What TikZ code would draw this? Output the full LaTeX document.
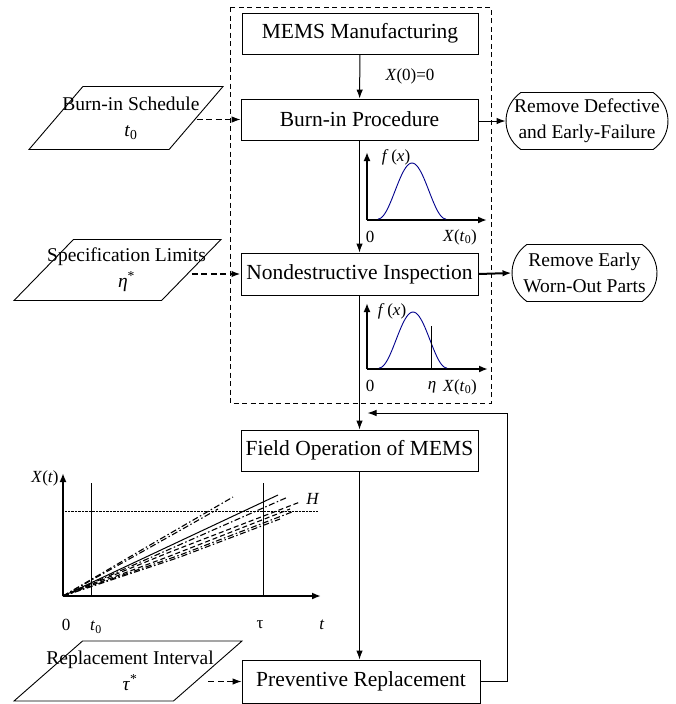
\documentclass[tikz,border=0pt]{standalone}
\usepackage{fontspec}
\setmainfont{Liberation Serif}
\usetikzlibrary{shapes.geometric,shapes.misc,calc,arrows.meta}

\newcommand{\boxfont}{\fontsize{21.5}{24}\selectfont}
\newcommand{\sidefont}{\fontsize{19.5}{26}\selectfont}
\newcommand{\axfont}{\fontsize{17}{19}\selectfont}

\begin{document}
\begin{tikzpicture}[x=1pt,y=-1pt,
    box/.style={draw,line width=0.9pt,minimum width=237pt,minimum height=41pt,inner sep=0pt,font=\boxfont},
    inbox/.style={draw,line width=0.9pt,trapezium,trapezium stretches=true,inner sep=2pt},
    outbox/.style={draw,line width=0.9pt,rounded rectangle,rounded rectangle arc length=110,
      inner sep=0pt,font=\sidefont,align=center},
    intext/.style={font=\sidefont,align=center},
    arj/.style={line width=1pt,-{Latex[length=9pt,width=6.5pt]}},
    darj/.style={arj,dash pattern=on 6pt off 3.5pt},
    axis/.style={line width=2.2pt,-{Latex[length=9pt,width=7pt]}},
    bell/.style={line width=0.9pt,draw=blue!55!black},
    dd/.style={line width=1.1pt,dash pattern=on 6pt off 2.5pt on 1.5pt off 2.5pt},
    ld/.style={line width=1.1pt,dash pattern=on 5pt off 3pt}]
  \useasboundingbox (0,0) rectangle (676,704);

  % main chain
  \node (mfg) [box,minimum width=236pt] at (360,33.5) {MEMS Manufacturing};
  \node (burn) [box] at (359.5,119.5) {Burn-in Procedure};
  \node (ndi) [box,minimum height=42pt] at (359.5,274) {Nondestructive Inspection};
  \node (field) [box] at (359.5,450.5) {Field Operation of MEMS};
  \node (prev) [box,minimum width=238pt,minimum height=43pt] at (361,681.5) {Preventive Replacement};

  \draw[line width=0.9pt,dash pattern=on 5pt off 3.5pt] (230,7) rectangle (491,403);

  \draw[arj] (mfg) -- node[right=22pt,font=\axfont]{\textit{X}(0)=0} (burn);
  \draw[arj] (burn) -- (ndi);
  \draw[arj] (ndi) -- (field);
  \draw[arj] (field.south) -- (field.south |- prev.north);
  \coordinate (fbturn) at (507,413);
  \draw[arj] (prev.east) -| (fbturn) -- ($(fbturn -| field.north)+(8,0)$);

  % inputs
  \node (sched) [inbox,trapezium left angle=58,trapezium right angle=122,
    minimum width=194pt,minimum height=63pt,
    label={[intext,xshift=5pt]center:{Burn-in Schedule\\\textit{t}\textsubscript{0}}}] at (126,118) {};
  \node (spec) [inbox,trapezium left angle=56,trapezium right angle=124,
    minimum width=207pt,minimum height=61pt,
    label={[intext,xshift=9pt]center:{Specification Limits\\\textit{η}\textsuperscript{*}}}] at (117.5,270) {};
  \node (repl) [inbox,trapezium left angle=53,trapezium right angle=127,
    minimum width=228pt,minimum height=60pt,
    label={[intext,xshift=2pt]center:{Replacement Interval\\\textit{τ}\textsuperscript{*}}}] at (128,671) {};

  \draw[darj] (sched.east |- burn.west) -- (burn.west);
  \draw[darj,line width=2pt] (spec.east |- ndi.west) -- (ndi.west);
  \draw[darj] (repl.east |- prev.west) -- (prev.west);

  % outputs
  \node (rmdef) [outbox,minimum width=162pt,minimum height=57pt] at (587,121)
    {Remove Defective\\and Early-Failure};
  \node (rmworn) [outbox,minimum width=145pt,minimum height=57pt] at (584.5,273)
    {Remove Early\\Worn-Out Parts};
  \draw[arj] (burn.east |- rmdef.west) -- (rmdef.west);
  \draw[arj,line width=2pt] (ndi.east) -- (rmworn.west);

  % density after burn-in
  \draw[axis] (367,220) -- (367,152);
  \draw[axis] (367,220) -- (487,220);
  \draw[bell] plot[domain=378:446,samples=50] (\x,{219-56*(1+cos(180*(\x-412)/34))/2});
  \node[font=\axfont] at (396,157) {\textit{f}\,(\textit{x})};
  \node[font=\axfont] at (370,237) {0};
  \node[font=\axfont] at (460,237) {\textit{X}(\textit{t}\textsubscript{0})};

  % density after inspection
  \draw[axis] (367,369) -- (367,303);
  \draw[axis] (367,369) -- (488,369);
  \draw[bell] plot[domain=379:447,samples=50] (\x,{368-56*(1+cos(180*(\x-413)/34))/2});
  \draw[line width=0.9pt] (431,326) -- (431,369);
  \node[font=\axfont] at (392,311) {\textit{f}\,(\textit{x})};
  \node[font=\axfont] at (370,386) {0};
  \node[font=\axfont] at (432,387) {\textit{η}};
  \node[font=\axfont] at (460,387) {\textit{X}(\textit{t}\textsubscript{0})};

  % degradation paths
  \draw[axis] (63,596) -- (63,473);
  \draw[axis] (63,596) -- (321,596);
  \draw[line width=0.9pt] (91,483) -- (91,596);
  \draw[line width=0.9pt] (263,483) -- (263,596);
  \draw[densely dotted] (65,511) -- (318,511);
  \draw[line width=1pt] (63,596) -- (278,495);
  \draw[dd] (63,596) -- (150,545) -- (233,497);
  \draw[dd] (63,596) -- (140,553) -- (218,509);
  \draw[dd] (63,596) -- (170,549) -- (288,497);
  \draw[ld] (63,596) -- (170,552) -- (300,502);
  \draw[ld] (63,596) -- (170,556) -- (290,509);
  \draw[dd] (63,596) -- (180,555) -- (292,512);
  \draw[dd] (63,596) -- (180,557) -- (280,519);
  \node[font=\axfont] at (45,478) {\textit{X}(\textit{t})};
  \node[font=\axfont] at (313,499) {\textit{H}};
  \node[font=\axfont] at (66,625) {0};
  \node[font=\axfont] at (96,627) {\textit{t}\textsubscript{0}};
  \node[font=\axfont] at (260,625) {τ};
  \node[font=\axfont] at (322,625) {\textit{t}};
\end{tikzpicture}
\end{document}
